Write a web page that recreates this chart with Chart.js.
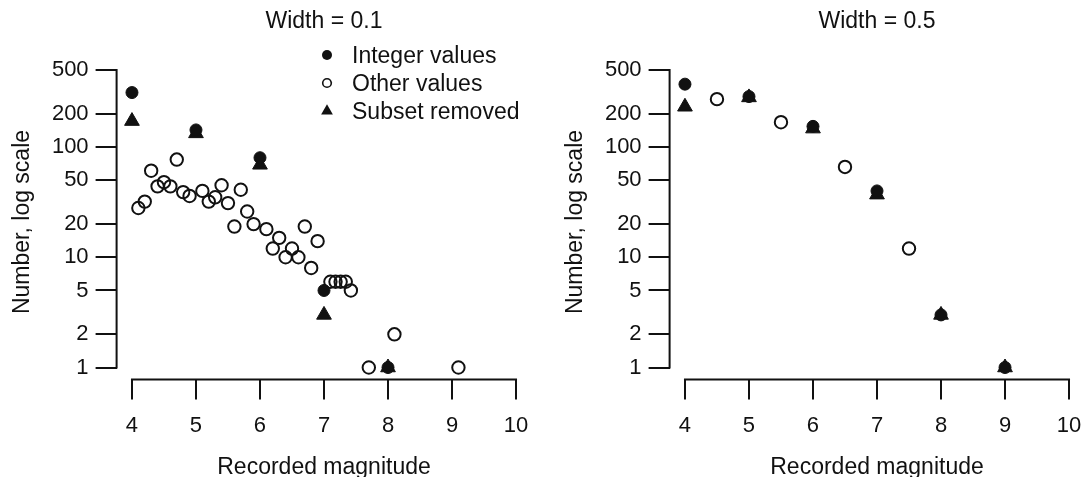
<!DOCTYPE html>
<html>
<head>
<meta charset="utf-8">
<script src="https://cdn.jsdelivr.net/npm/chart.js"></script>
<style>
  html, body { margin: 0; padding: 0; background: #fff; overflow: hidden; }
  #wrap { position: relative; width: 1083px; height: 477px; overflow: hidden; }
  canvas { position: absolute; top: 0; }
  #c1 { left: 0; }
  #c2 { left: 553px; }
</style>
</head>
<body>
<div id="wrap">
  <canvas id="c1" width="541" height="477"></canvas>
  <canvas id="c2" width="541" height="477"></canvas>
</div>
<script>
"use strict";

// axis ticks
let xTicks = [4, 5, 6, 7, 8, 9, 10];
let yTicks = [1, 2, 5, 10, 20, 50, 100, 200, 500];

// panel 1: width = 0.1
let intMag1 = [4, 5, 6, 7, 8];
let intCount1 = [312, 143, 80, 5, 1];
let subMag1 = [4, 5, 6, 7, 8];
let subCount1 = [172, 133, 69, 3, 1];
let otherMag1 = [4.1, 4.2, 4.3, 4.4, 4.5, 4.6, 4.7, 4.8, 4.9, 5.1, 5.2, 5.3, 5.4, 5.5, 5.6, 5.7, 5.8, 5.9,
                 6.1, 6.2, 6.3, 6.4, 6.5, 6.6, 6.7, 6.8, 6.9, 7.1, 7.18, 7.26, 7.34, 7.42, 7.7, 8.1, 9.1];
let otherCount1 = [28, 32, 61, 44, 48, 44, 77, 39, 36, 40, 32, 35, 45, 31, 19, 41, 26, 20,
                   18, 12, 15, 10, 12, 10, 19, 8, 14, 6, 6, 6, 6, 5, 1, 2, 1];

// panel 2: width = 0.5
let intMag2 = [4, 5, 6, 7, 8, 9];
let intCount2 = [372, 287, 154, 40, 3, 1];
let subMag2 = [4, 5, 6, 7, 8, 9];
let subCount2 = [232, 282, 147, 37, 3, 1];
let otherMag2 = [4.5, 5.5, 6.5, 7.5];
let otherCount2 = [272, 168, 66, 12];

let legendLabels = ["Integer values", "Other values", "Subset removed"];

const FONT = '"Liberation Sans", Arial, Helvetica, sans-serif';
const INK = "#111";

function pts(xs, ys) {
    return xs.map((x, i) => ({ x: x, y: ys[i] }));
}

function rStyle(title, showLegend) {
    return {
        id: "rStyle",
        afterDraw(chart) {
            let ctx = chart.ctx;
            let xs = chart.scales.x;
            let ys = chart.scales.y;
            let a = chart.chartArea;
            ctx.save();

            // axis lines only over the tick range, like R
            ctx.strokeStyle = INK;
            ctx.lineWidth = 2;
            ctx.lineCap = "square";
            ctx.beginPath();
            ctx.moveTo(a.left, ys.getPixelForValue(yTicks[0]));
            ctx.lineTo(a.left, ys.getPixelForValue(yTicks[yTicks.length - 1]));
            ctx.moveTo(xs.getPixelForValue(xTicks[0]), a.bottom);
            ctx.lineTo(xs.getPixelForValue(xTicks[xTicks.length - 1]), a.bottom);
            ctx.stroke();

            let cx = (a.left + a.right) / 2;
            ctx.fillStyle = INK;
            ctx.font = "23px " + FONT;
            ctx.textAlign = "center";
            ctx.textBaseline = "alphabetic";
            ctx.fillText(title, cx, 28);
            ctx.fillText("Recorded magnitude", cx, 474);

            ctx.save();
            ctx.translate(29, 222);
            ctx.rotate(-Math.PI / 2);
            ctx.fillText("Number, log scale", 0, 0);
            ctx.restore();

            if (showLegend) {
                let lx = 327, tx = 352;
                let rows = [55, 83, 111];
                ctx.textAlign = "left";
                legendLabels.forEach((lab, i) => {
                    ctx.fillText(lab, tx, rows[i] + 8);
                });
                ctx.beginPath();
                ctx.arc(lx, rows[0], 5, 0, Math.PI * 2);
                ctx.fill();
                ctx.beginPath();
                ctx.lineWidth = 1.6;
                ctx.arc(lx, rows[1], 4.3, 0, Math.PI * 2);
                ctx.stroke();
                let r = 6.8;
                ctx.beginPath();
                ctx.moveTo(lx, rows[2] - r);
                ctx.lineTo(lx + r * 0.866, rows[2] + r / 2);
                ctx.lineTo(lx - r * 0.866, rows[2] + r / 2);
                ctx.closePath();
                ctx.fill();
            }
            ctx.restore();
        }
    };
}

function makeChart(id, title, showLegend, intX, intY, othX, othY, subX, subY) {
    let canvas = document.querySelector(id);
    return new Chart(canvas, {
        type: "scatter",
        data: {
            datasets: [
                {
                    label: legendLabels[0],
                    data: pts(intX, intY),
                    pointStyle: "circle",
                    pointRadius: 6,
                    backgroundColor: INK,
                    borderColor: INK,
                    borderWidth: 1
                },
                {
                    label: legendLabels[1],
                    data: pts(othX, othY),
                    pointStyle: "circle",
                    pointRadius: 6.2,
                    backgroundColor: "rgba(0,0,0,0)",
                    borderColor: INK,
                    borderWidth: 2
                },
                {
                    label: legendLabels[2],
                    data: pts(subX, subY),
                    pointStyle: "triangle",
                    pointRadius: 8.5,
                    backgroundColor: INK,
                    borderColor: INK,
                    borderWidth: 1
                }
            ]
        },
        options: {
            responsive: false,
            animation: false,
            events: [],
            layout: { padding: { top: 58.1, right: 9.6, bottom: 0, left: 0 } },
            plugins: {
                legend: { display: false },
                tooltip: { enabled: false },
                title: { display: false }
            },
            scales: {
                x: {
                    type: "linear",
                    bounds: "data",
                    min: 3.76,
                    max: 10.24,
                    afterBuildTicks: s => { s.ticks = xTicks.map(v => ({ value: v })); },
                    afterFit: s => { s.height = 97.6; s.paddingLeft = 0; s.paddingRight = 0; },
                    border: { display: false },
                    grid: {
                        drawOnChartArea: false,
                        drawTicks: true,
                        tickLength: 20,
                        color: INK,
                        lineWidth: 2
                    },
                    ticks: {
                        autoSkip: false,
                        maxRotation: 0,
                        padding: 13,
                        color: INK,
                        font: { family: FONT, size: 22 },
                        callback: v => String(v)
                    }
                },
                y: {
                    type: "logarithmic",
                    bounds: "data",
                    min: 0.78,
                    max: 641,
                    afterBuildTicks: s => { s.ticks = yTicks.map(v => ({ value: v })); },
                    afterFit: s => { s.width = 116.6; s.paddingTop = 0; s.paddingBottom = 0; },
                    border: { display: false },
                    grid: {
                        drawOnChartArea: false,
                        drawTicks: true,
                        tickLength: 21,
                        color: INK,
                        lineWidth: 2
                    },
                    ticks: {
                        autoSkip: false,
                        padding: 7,
                        color: INK,
                        font: { family: FONT, size: 22 },
                        callback: v => String(v)
                    }
                }
            }
        },
        plugins: [rStyle(title, showLegend)]
    });
}

let chart1 = makeChart("#c1", "Width = 0.1", true,
    intMag1, intCount1, otherMag1, otherCount1, subMag1, subCount1);
let chart2 = makeChart("#c2", "Width = 0.5", false,
    intMag2, intCount2, otherMag2, otherCount2, subMag2, subCount2);
</script>
</body>
</html>
